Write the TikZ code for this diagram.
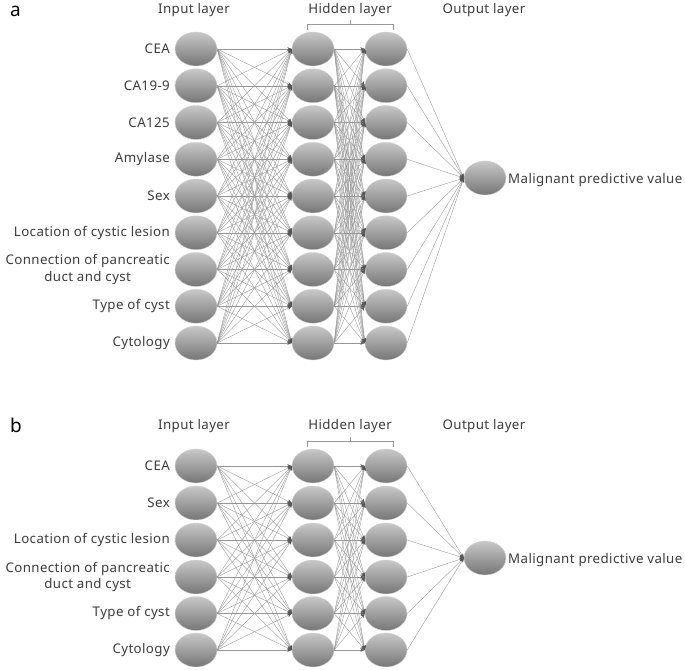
\documentclass[tikz,border=0pt]{standalone}
\usepackage{fontspec}
\setmainfont{Noto Sans}[LetterSpace=3]
\usetikzlibrary{arrows.meta,shapes.geometric}
\definecolor{nTop}{RGB}{200,200,200}
\definecolor{nMid}{RGB}{168,168,168}
\definecolor{nBot}{RGB}{118,118,118}
\definecolor{lineGray}{RGB}{150,150,150}
\definecolor{tipGray}{RGB}{85,85,85}
\definecolor{txtGray}{RGB}{60,60,60}
\begin{document}
\begin{tikzpicture}[x=1pt,y=-1pt,
  neuron/.style={ellipse,minimum width=42pt,minimum height=34pt,inner sep=0pt,draw=gray!35,line width=0.4pt,top color=nTop,middle color=nMid,bottom color=nBot},
  conn/.style={draw=lineGray,line width=0.35pt,-{Stealth[length=4.5pt,width=3.5pt,color=tipGray]}},
  lbl/.style={font=\fontsize{13.3}{16.5}\selectfont,text=txtGray,inner sep=0pt},
  panel/.style={font=\fontsize{19}{22}\selectfont,text=black,inner sep=0pt},
  brace/.style={draw=gray!80,line width=0.6pt}]
\useasboundingbox (0,0) rectangle (685,669);
% ---------------- Panel a ----------------
\node[panel,anchor=west] (alab) at (10,11) {a};
\node[lbl] (a-tin) at (194,10) {Input layer};
\node[lbl] (a-thid) at (350,10) {Hidden layer};
\node[lbl] (a-tout) at (484,10) {Output layer};
\draw[brace] (307,30) -- (307,24) -- (393,24) -- (393,30) (350,24) -- (350,20);
\foreach \i/\y/\t in {1/49/CEA,2/85.75/CA19-9,3/122.5/CA125,4/159.25/Amylase,5/196/Sex,6/232.75/Location of cystic lesion,7/269.5/{Connection of pancreatic\\duct and cyst},8/306.25/Type of cyst,9/343/Cytology}{
  \node[neuron] (a-in-\i) at (196,\y) {};
  \node[neuron] (a-h1-\i) at (313,\y) {};
  \node[neuron] (a-h2-\i) at (386,\y) {};
  \node[lbl,anchor=east,align=center] (a-l-\i) at (170,\y) {\t};
}
\node[neuron] (a-out) at (485,178) {};
\node[lbl,anchor=west] (a-ol) at (508,180) {Malignant predictive value};
\foreach \i in {1,...,9}{
  \foreach \j in {1,...,9}{
    \draw[conn] (a-in-\i.east) -- (a-h1-\j.west);
    \draw[conn] (a-h1-\i.east) -- (a-h2-\j.west);
  }
  \draw[conn] (a-h2-\i.east) -- (a-out.west);
}
% ---------------- Panel b ----------------
\node[panel,anchor=west] (blab) at (10,425) {b};
\node[lbl] (b-tin) at (194,426) {Input layer};
\node[lbl] (b-thid) at (350,426) {Hidden layer};
\node[lbl] (b-tout) at (484,426) {Output layer};
\draw[brace] (307,447) -- (307,441) -- (393,441) -- (393,447) (350,441) -- (350,437);
\foreach \i/\y/\t in {1/466/CEA,2/503/Sex,3/540/Location of cystic lesion,4/577/{Connection of pancreatic\\duct and cyst},5/613.5/Type of cyst,6/650/Cytology}{
  \node[neuron] (b-in-\i) at (196,\y) {};
  \node[neuron] (b-h1-\i) at (313,\y) {};
  \node[neuron] (b-h2-\i) at (386,\y) {};
  \node[lbl,anchor=east,align=center] (b-l-\i) at (170,\y) {\t};
}
\node[neuron] (b-out) at (485,558) {};
\node[lbl,anchor=west] (b-ol) at (508,560) {Malignant predictive value};
\foreach \i in {1,...,6}{
  \foreach \j in {1,...,6}{
    \draw[conn] (b-in-\i.east) -- (b-h1-\j.west);
    \draw[conn] (b-h1-\i.east) -- (b-h2-\j.west);
  }
  \draw[conn] (b-h2-\i.east) -- (b-out.west);
}
\end{tikzpicture}
\end{document}
